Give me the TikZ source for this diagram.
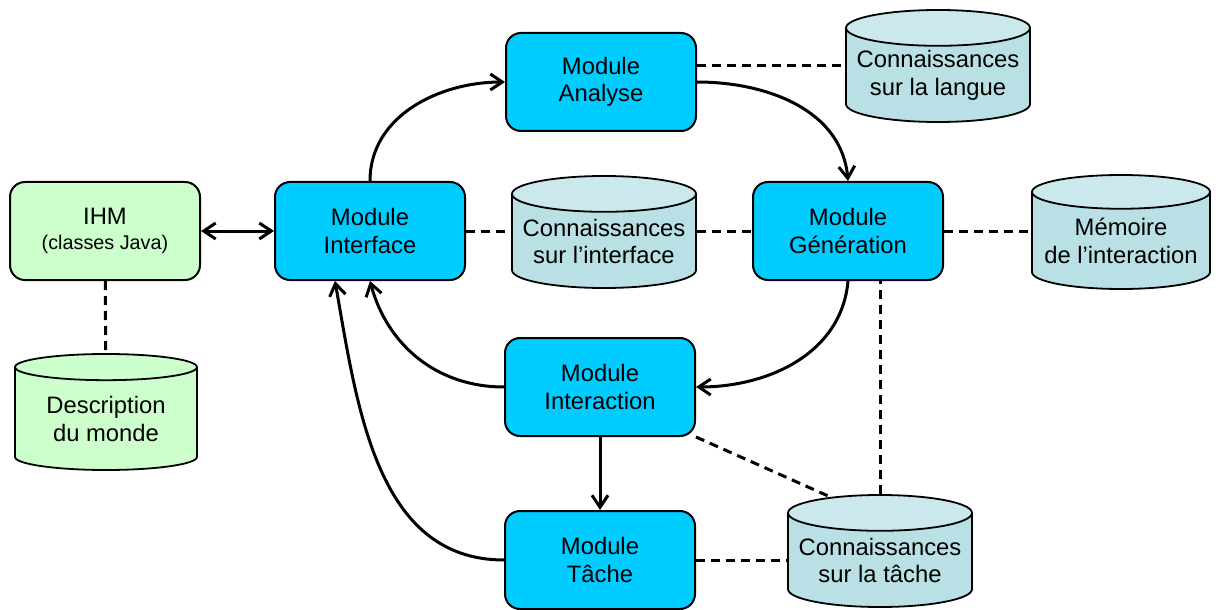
\documentclass[tikz,border=0pt]{standalone}
\usepackage{fontspec}
\setmainfont{Liberation Sans}
\usetikzlibrary{shapes.geometric,arrows.meta}
\definecolor{bleumod}{RGB}{0,204,255}
\definecolor{vertihm}{RGB}{204,255,204}
\definecolor{cylcorps}{RGB}{185,224,228}
\definecolor{cylhaut}{RGB}{203,233,236}
\tikzset{
  module/.style={draw, line width=1pt, rounded corners=7.5pt, fill=bleumod,
    minimum width=95pt, minimum height=49pt, align=center, inner sep=0pt,
    font=\fontsize{11.9}{13.6}\selectfont},
  base/.style={cylinder, shape border rotate=90, aspect=0.22, draw, line width=0.9pt,
    cylinder uses custom fill, cylinder body fill=cylcorps, cylinder end fill=cylhaut,
    minimum width=92pt, minimum height=56pt, align=center, inner sep=0pt,
    anchor=shape center, font=\fontsize{11.9}{13.6}\selectfont},
  fleche/.style={line width=1.5pt, -{Straight Barb[length=6pt,width=8pt]}},
  lien/.style={line width=1.5pt, dash pattern=on 4.5pt off 3pt},
}
\begin{document}
\begin{tikzpicture}[x=0.5pt, y=-0.5pt]
    \useasboundingbox (0,0) rectangle (1216,610);

    % Modules
    \node[module] (analyse) at (601,82)  {Module\\Analyse};
    \node[module] (iface)   at (370,231) {Module\\Interface};
    \node[module] (gen)     at (848,231) {Module\\Génération};
    \node[module] (inter)   at (600,387) {Module\\Interaction};
    \node[module] (tache)   at (600,560) {Module\\Tâche};

    % IHM et sa base
    \node[module, fill=vertihm] (ihm) at (105,231)
        {IHM\\[-1pt]{\fontsize{9.9}{11}\selectfont (classes Java)}};
    \node[base, cylinder body fill=vertihm, cylinder end fill=vertihm,
          minimum width=91pt, minimum height=58pt] (monde) at (106,412)
        {Description\\du monde};

    % Bases de connaissances
    \node[base] (langue)    at (938,66)  {Connaissances\\sur la langue};
    \node[base] (baseiface) at (604,232) {Connaissances\\sur l’interface};
    \node[base, minimum width=89pt, minimum height=57pt] (memoire) at (1121,232)
        {Mémoire\\de l’interaction};
    \node[base] (basetache) at (880,551) {Connaissances\\sur la tâche};

    % Flux entre modules
    \draw[line width=1.5pt, {Straight Barb[length=6pt,width=8pt]}-{Straight Barb[length=6pt,width=8pt]}]
        (ihm) -- (iface);
    \draw[fleche] (iface.north) to[out=90, in=180] (analyse.west);
    \draw[fleche] (analyse.east) to[out=0, in=95] (gen.north);
    \draw[fleche] (gen.south) to[out=-95, in=0] (inter.east);
    \draw[fleche] (inter.west) to[out=180, in=-75] (iface.south);
    \draw[fleche] (tache.west) to[out=180, in=-80] ([xshift=-17.5pt]iface.south);
    \draw[fleche] (inter) -- (tache);

    % Liens vers les bases
    \draw[lien] (ihm) -- (monde);
    \draw[lien] (langue.shape center -| analyse.east) -- (langue.shape center -| langue.180);
    \draw[lien] (iface.east) -- (iface.east -| baseiface.180);
    \draw[lien] (gen.west -| baseiface.0) -- (gen.west);
    \draw[lien] (gen.east) -- (gen.east -| memoire.180);
    \draw[lien] (tache.east) -- (tache.east -| basetache.180);
    \draw[lien] (basetache.north) -- (basetache.north |- gen.south);
    \draw[lien] (inter.south east) -- (basetache.128);
\end{tikzpicture}
\end{document}
